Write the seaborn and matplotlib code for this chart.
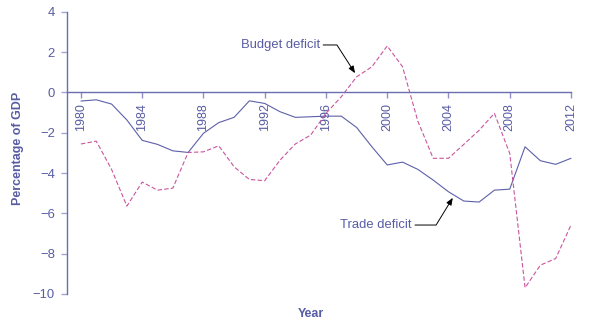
import numpy as np
import pandas as pd
import matplotlib
matplotlib.use("Agg")
import matplotlib.pyplot as plt
import seaborn as sns

years = list(range(1980, 2013))
trade_deficit = [-0.43, -0.37, -0.58, -1.37, -2.38, -2.58, -2.90, -2.98, -2.03, -1.50,
                 -1.24, -0.42, -0.55, -0.96, -1.24, -1.21, -1.18, -1.18, -1.74, -2.70,
                 -3.60, -3.46, -3.82, -4.35, -4.93, -5.39, -5.44, -4.85, -4.80, -2.70,
                 -3.39, -3.57, -3.27]
budget_deficit = [-2.56, -2.42, -3.82, -5.64, -4.45, -4.85, -4.75, -2.98, -2.95, -2.65,
                  -3.69, -4.32, -4.38, -3.36, -2.56, -2.12, -1.04, -0.22, 0.77, 1.27,
                  2.30, 1.27, -1.43, -3.27, -3.27, -2.58, -1.88, -1.04, -3.03, -9.69,
                  -8.57, -8.24, -6.58]
x_ticks = [1980, 1984, 1988, 1992, 1996, 2000, 2004, 2008, 2012]
y_ticks = [4, 2, 0, -2, -4, -6, -8, -10]

series_names = ["Trade deficit", "Budget deficit"]

df = pd.DataFrame({
    "Year": years * 2,
    "Value": trade_deficit + budget_deficit,
    "Series": [series_names[0]] * len(years) + [series_names[1]] * len(years),
})

sns.set_theme(style="white")
plt.rcParams["font.family"] = ["Liberation Sans", "DejaVu Sans"]

TEXT = "#585ca3"
AXIS = "#6a6db0"
TRADE = "#5d60a9"
BUDGET = "#c9559f"

fig = plt.figure(figsize=(5.89, 3.31), dpi=100)
ax = fig.add_axes([66.7 / 589, (331 - 294) / 331, (571 - 66.7) / 589, (294 - 11.7) / 331])

sns.lineplot(data=df, x="Year", y="Value", hue="Series", style="Series",
             palette={series_names[0]: TRADE, series_names[1]: BUDGET},
             dashes={series_names[0]: "", series_names[1]: (4.0, 2.0)},
             linewidth=0.8, legend=False, ax=ax, clip_on=False)

ax.set_xlim(1979.07, 2012)
ax.set_ylim(-10, 4)

for s in ["top", "right"]:
    ax.spines[s].set_visible(False)
ax.spines["bottom"].set_position(("data", 0))
ax.spines["bottom"].set_color(AXIS)
ax.spines["left"].set_color(AXIS)
ax.spines["bottom"].set_linewidth(1.0)
ax.spines["left"].set_linewidth(1.0)

ax.set_xticks(x_ticks)
ax.set_xticklabels([str(t) for t in x_ticks], rotation=90, fontsize=9, color=TEXT)
ax.set_yticks(y_ticks)
ax.set_yticklabels([f"{t}".replace("-", "\u2212") for t in y_ticks], fontsize=9.4, color=TEXT)
ax.tick_params(axis="x", bottom=True, direction="out", length=4.5, width=1.0,
               color="#8f92c4", pad=3.0)
ax.tick_params(axis="y", left=True, direction="out", length=4.5, width=1.0,
               color="#a4a6d0", pad=4)

ax.set_xlabel("Year", fontsize=9, fontweight="bold", color=TEXT)
ax.xaxis.set_label_coords(0.485, -0.05)
ax.set_ylabel("Percentage of GDP", fontsize=9, fontweight="bold", color=TEXT)
ax.yaxis.set_label_coords(-0.0847, 0.515)

ax.annotate("Budget deficit", xy=(1997.9, 0.95), xytext=(1995.6, 2.35),
            ha="right", va="center", fontsize=9.4, color=TEXT,
            arrowprops=dict(arrowstyle="-|>,head_length=0.45,head_width=0.18",
                            color="black", lw=0.7, shrinkA=0, shrinkB=0,
                            connectionstyle="angle,angleA=0,angleB=122.7,rad=0"))
ax.annotate("Trade deficit", xy=(2004.28, -5.23), xytext=(2001.6, -6.58),
            ha="right", va="center", fontsize=9.4, color=TEXT,
            arrowprops=dict(arrowstyle="-|>,head_length=0.45,head_width=0.18",
                            color="black", lw=0.7, shrinkA=0, shrinkB=0,
                            connectionstyle="angle,angleA=0,angleB=58.5,rad=0"))

fig.savefig("out.png", dpi=100)
